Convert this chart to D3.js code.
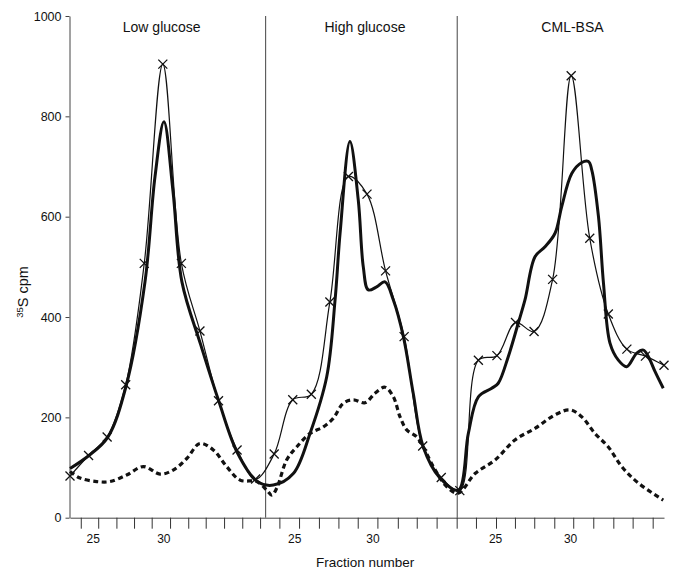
<!DOCTYPE html>
<html><head><meta charset="utf-8">
<script src="https://cdn.jsdelivr.net/npm/d3@7"></script>
<style>
body{margin:0;background:#fff}
svg{display:block}
text{font-family:"Liberation Sans",Arial,Helvetica,sans-serif;fill:#111}
</style>
</head><body>
<svg id="chart" width="675" height="572"></svg>
<script>
// ---- data (x = position along the fraction axis, one unit per collected fraction) ----
const panelTitles = ["Low glucose", "High glucose", "CML-BSA"];
const panelTitlePos = [4.94, 15.89, 27.07];
const dividerPos = [10.54, 20.86];

const tickLabels = ["25", "30", "25", "30", "25", "30"];
const tickLabelPos = [1.22, 5.03, 12.08, 16.29, 22.9, 26.94];
const minorTickPos = [0.58,1.52,2.5,3.45,4.4,5.39,6.37,7.31,8.3,9.28,10.24,11.28,12.34,13.41,14.46,15.5,
  16.56,17.66,18.68,19.75,20.83,21.87,22.95,23.97,25.01,26.09,27.11,28.19,29.27,30.31,31.39];
const yTicks = [0, 200, 400, 600, 800, 1000];

// thin line with x markers (measured fractions)
const markerPos = d3.range(33);
const markerValues = [83,124,161,265,507,904,507,372,233,135,77,127,235,246,430,680,645,492,361,143,80,54,
  314,323,389,371,475,881,557,406,336,322,304];

// thick smooth line
const thickPos = [0,1.02,2.03,3.02,4.04,4.58,5.06,5.55,6.03,7.04,8.01,9.01,10.09,10.95,12.03,12.93,13.83,14.28,
  14.55,15.08,15.53,15.8,16.07,16.52,16.97,17.42,17.96,18.49,19.03,19.93,20.92,21.46,22.0,22.72,23.07,23.61,
  24.15,24.51,25.05,25.59,26.13,26.49,27.03,27.57,27.93,28.11,28.47,28.74,29.09,29.54,29.99,30.53,30.89,31.16,
  31.52,31.96];
const thickValues = [98,124,160,262,470,680,789,650,470,345,233,130,72,65,88,168,281,434,
  567,750,633,500,454,460,470,434,361,248,141,79,55,168,241,258,268,321,
  388,434,520,540,567,620,686,708,710,693,600,467,348,314,301,328,334,321,
  291,258];

// dashed line
const dashPos = [0,0.54,1.44,2.15,3.05,3.95,4.85,5.56,6.29,7.0,7.72,8.44,9.16,10.06,10.6,10.87,11.14,11.67,
  12.21,12.93,13.65,14.18,14.72,15.26,15.89,16.43,16.97,17.42,17.78,18.14,18.68,19.03,19.57,20.29,20.92,
  21.82,22.9,23.97,25.05,26.13,26.94,27.57,28.28,29.0,29.72,30.62,31.96];
const dashValues = [92,79,72,72,85,102,87,95,118,148,135,102,75,72,55,45,59,115,
  141,168,181,198,228,235,229,248,260,241,201,175,161,141,102,62,49,
  88,115,155,178,205,215,201,168,141,102,69,35];

// ---- layout ----
const svg = d3.select("#chart");
const x = d3.scaleLinear().domain([0, 32]).range([70, 664]);
const y = d3.scaleLinear().domain([0, 1000]).range([517.7, 16]);
const ink = "#111";
const font = '"Liberation Sans",Arial,Helvetica,sans-serif';

// dividers
svg.selectAll(".div").data(dividerPos).enter().append("line")
  .attr("x1", d => x(d)).attr("x2", d => x(d))
  .attr("y1", y(1000)).attr("y2", y(0))
  .attr("stroke", "#444").attr("stroke-width", 1);

// y axis
const ya = svg.append("g").attr("transform", `translate(${x(0)-0.5},0)`)
  .call(d3.axisLeft(y).tickValues(yTicks).tickFormat(d3.format("d")).tickSize(4).tickSizeOuter(0).tickPadding(4));
ya.select(".domain").attr("stroke", "#444");
ya.selectAll(".tick line").attr("stroke", "#444");
ya.selectAll(".tick text").attr("font-size", 12.5).attr("font-family", font).attr("fill", ink);

// x axis ticks
const xa = svg.append("g").attr("transform", `translate(0,${y(0)})`)
  .call(d3.axisBottom(x).tickValues(minorTickPos).tickFormat("").tickSize(11).tickSizeOuter(0));
xa.select(".domain").attr("stroke", "#444");
xa.selectAll(".tick line").attr("stroke", "#333");

const xl = svg.append("g").attr("transform", `translate(0,${y(0)})`)
  .call(d3.axisBottom(x).tickValues(tickLabelPos).tickFormat((d, i) => tickLabels[i]).tickSize(0).tickPadding(17));
xl.select(".domain").remove();
xl.selectAll(".tick text").attr("font-size", 12).attr("font-family", font).attr("fill", ink);

// titles
svg.selectAll(".ptitle").data(panelTitles).enter().append("text")
  .attr("x", (d, i) => x(panelTitlePos[i])).attr("y", 32)
  .attr("text-anchor", "middle").attr("font-size", 14).attr("fill", ink).text(d => d);

svg.append("text").attr("x", x(15.9)).attr("y", 567).attr("text-anchor", "middle")
  .attr("font-size", 13.5).attr("fill", ink).text("Fraction number");

const yt = svg.append("text").attr("transform", `translate(28,${y(450)}) rotate(-90)`)
  .attr("text-anchor", "middle").attr("font-size", 14.5).attr("fill", ink);
yt.append("tspan").attr("font-size", 9.5).attr("dy", -5).attr("fill", ink).text("35");
yt.append("tspan").attr("dy", 5).attr("fill", ink).text("S cpm");

// lines
const line = d3.line().x(d => x(d[0])).y(d => y(d[1])).curve(d3.curveCatmullRom.alpha(0.5));
svg.append("path").datum(dashPos.map((p, i) => [p, dashValues[i]]))
  .attr("d", line).attr("fill", "none").attr("stroke", ink)
  .attr("stroke-width", 3.2).attr("stroke-dasharray", "5,3.5");

svg.append("path").datum(thickPos.map((p, i) => [p, thickValues[i]]))
  .attr("d", line).attr("fill", "none").attr("stroke", ink)
  .attr("stroke-width", 3).attr("stroke-linejoin", "round");

svg.append("path").datum(markerPos.map((p, i) => [p, markerValues[i]]))
  .attr("d", line).attr("fill", "none").attr("stroke", ink)
  .attr("stroke-width", 1.2);

// x markers
const s = 4.5;
svg.selectAll(".mk").data(markerPos).enter().append("path")
  .attr("d", (d, i) => {
    const cx = x(d), cy = y(markerValues[i]);
    return `M${cx-s},${cy-s}L${cx+s},${cy+s}M${cx-s},${cy+s}L${cx+s},${cy-s}`;
  })
  .attr("stroke", ink).attr("stroke-width", 1.3).attr("fill", "none");
</script>
</body></html>
